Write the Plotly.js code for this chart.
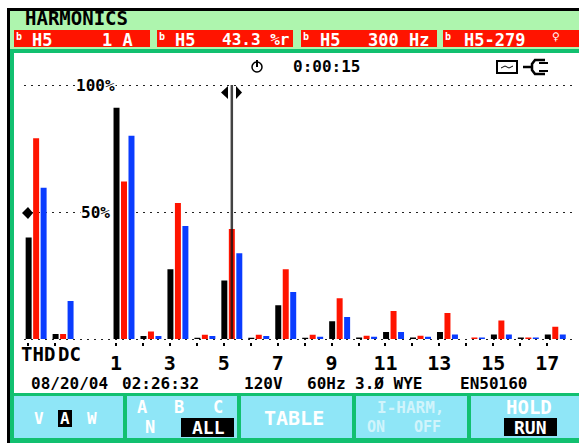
<!DOCTYPE html>
<html><head><meta charset="utf-8">
<script src="https://cdn.plot.ly/plotly-3.0.1.min.js"></script>
<style>html,body{margin:0;padding:0;background:#fff;overflow:hidden}</style>
</head><body><div id="chart" style="width:579px;height:443px"></div>
<script>
// Harmonic positions: THD and DC sit left of order 1 on the instrument's axis
const harmonicOrders = [-2.26,-1.26,1,2,3,4,5,6,7,8,9,10,11,12,13,14,15,16,17];
const tickLabels = ['','','1','','3','','5','','7','','9','','11','','13','','15','','17'];
const phaseBlack = [40,2,91,1.2,27.5,0.5,23,0.5,13.3,0.5,7,0.6,2.8,0.6,2.8,0,1.8,0.6,1.8];
const phaseRed   = [79,2,62,3,53.5,1.7,43.3,1.7,27.5,1.7,16,1.3,11,1.3,10.2,0.6,7.3,0.6,4.8];
const phaseBlue  = [59.5,15,80,1.2,44.5,1.2,33.8,1.2,18.5,0.9,8.7,0.9,2.8,0.9,1.8,0.6,1.8,0.6,1.8];
const cursorOrder = 5;

const W=579,H=443;
const px=x=>x/W, py=y=>(H-y)/H;
const GREEN='#12c070',HEAD='#aef5ae',TEAL='#8fe6f7',RED='#ff1400',BLUE='#0a3cff';
const MONO='"DejaVu Sans Mono", monospace';

function rect(x0,y0,x1,y1,c){return {type:'rect',xref:'paper',yref:'paper',x0:px(x0),x1:px(x1),y0:py(y0),y1:py(y1),fillcolor:c,line:{width:0},layer:'below'};}
function rectTop(x0,y0,x1,y1,c){return Object.assign(rect(x0,y0,x1,y1,c),{layer:'above'});}
function poly(pts,c,lw,fill){
  const d='M'+pts.map(p=>px(p[0])+','+py(p[1])).join('L')+(fill?'Z':'');
  return {type:'path',xref:'paper',yref:'paper',path:d,fillcolor:fill?c:'rgba(0,0,0,0)',line:{color:c,width:lw||0},layer:'above'};
}
function txt(t,x,y,size,color,extra){
  return Object.assign({text:t,xref:'paper',yref:'paper',x:px(x),y:py(y),xanchor:'center',yanchor:'middle',showarrow:false,borderpad:0,
    font:{family:MONO,size:size,color:color||'#000',weight:700}},extra||{});
}

const shapes=[
  rect(7,8,W,11,'#000'),
  rect(7,8,10,443,'#000'),
  rect(10,11,W,49,HEAD),
  rect(10,49,W,53,GREEN),
  rect(10,49,14,443,GREEN),
  rect(14,30,150,47,RED),rect(157,30,293,47,RED),rect(301,30,437,47,RED),rect(443,30,W,47,RED),
  rect(10,393,W,443,GREEN),
  rect(14,396,123,438,TEAL),rect(127,396,237,438,TEAL),rect(241,396,352,438,TEAL),rect(356,396,467,438,TEAL),rect(471,396,W,438,TEAL),
  rectTop(58,410,72,427,'#000'),
  rectTop(181,418,234,437,'#000'),
  rectTop(504,418,557,436,'#000'),
  // cursor
  {type:'line',xref:'x',yref:'paper',x0:cursorOrder,x1:cursorOrder,y0:py(339),y1:py(85),line:{color:'rgba(20,20,20,0.8)',width:2.5},layer:'above'},
  poly([[228,86],[228,99],[221,92.5]],'#000',0,true),
  poly([[236,86],[236,99],[242,92.5]],'#000',0,true),
  // level marker
  poly([[22,213],[28,207],[33,213],[28,219]],'#000',0,true),
  // timer icon
  {type:'circle',xref:'paper',yref:'paper',x0:px(252),x1:px(262),y0:py(72),y1:py(62),line:{color:'#000',width:1.5},layer:'above'},
  poly([[257,60],[257,67]],'#000',2),
  // tape icon
  {type:'rect',xref:'paper',yref:'paper',x0:px(497),x1:px(517),y0:py(73),y1:py(61),line:{color:'#000',width:2},layer:'above'},
  poly([[501,68],[505,66],[509,68],[513,66]],'#000',1),
  // plug icon
  poly([[523,67],[532,67]],'#000',2.5),
  poly([[545,60],[535,60],[532,64],[532,70],[535,74],[545,74]],'#000',2.5),
  poly([[539,63],[548,63]],'#000',2),
  poly([[539,71],[548,71]],'#000',2)
];

const annotations=[
  txt('HARMONICS',76,18,19),
  txt('H5',42,39.5,17,'#fff'),txt('1 A',117,39.5,17,'#fff'),
  txt('H5',185,39.5,17,'#fff'),txt('43.3 %r',255,39.5,16,'#fff'),
  txt('H5',330,39.5,17,'#fff'),txt('300 Hz',398,39.5,17,'#fff'),
  txt('H5-279',494,39.5,17,'#fff'),txt('♀',556,37,13,'#fff'),
  txt('b',19,36,10,'#fff'),txt('b',162,36,10,'#fff'),txt('b',306,36,10,'#fff'),txt('b',448,36,10,'#fff'),
  txt('0:00:15',326,67,16),
  txt('100%',95,85,16,'#000',{bgcolor:'#fff'}),
  txt('50%',95,212,16,'#000',{bgcolor:'#fff'}),
  txt('THD',38,354,19),txt('DC',69,354,19),
  txt('08/20/04',69,383,16),txt('02:26:32',160,383,16),
  txt('120V',263,383,16),txt('60Hz',326,383,16),txt('3.Ø WYE',388,383,16),txt('EN50160',493,383,16),
  txt('V',39,418,16,'#fff'),txt('A',65,418,16,'#fff'),txt('W',92,418,16,'#fff'),
  txt('A',142,407,17,'#fff'),txt('B',179,407,17,'#fff'),txt('C',218,407,17,'#fff'),
  txt('N',150,427,17,'#fff'),txt('ALL',208,427,18,'#fff'),
  txt('TABLE',294,418,20,'#fff'),
  txt('I-HARM,',410,407,16,'rgba(255,255,255,0.6)'),
  txt('ON',376,427,15,'rgba(255,255,255,0.6)'),txt('OFF',427,427,15,'rgba(255,255,255,0.6)'),
  txt('HOLD',529,407,19,'#fff'),txt('RUN',530,427,18,'#fff')
];

function series(name,vals,color){return {type:'bar',name:name,x:harmonicOrders,y:vals,marker:{color:color,line:{width:0}},hoverinfo:'skip'};}

Plotly.newPlot('chart',[
  series('A',phaseBlack,'#000'),
  series('B',phaseRed,RED),
  series('C',phaseBlue,BLUE)
],{
  width:W,height:H,margin:{l:0,r:0,t:0,b:0},
  paper_bgcolor:'#fff',plot_bgcolor:'rgba(0,0,0,0)',
  showlegend:false,barmode:'group',bargap:0.167,bargroupgap:0.2,
  xaxis:{domain:[px(24),px(572)],range:[-2.71,17.62],showgrid:false,zeroline:false,showline:false,
    tickmode:'array',tickvals:harmonicOrders.map(h=>h-0.3),ticktext:tickLabels,ticks:'outside',ticklen:3,tickwidth:2,tickcolor:'#000',
    tickfont:{family:MONO,size:20,color:'#000',weight:700},fixedrange:true},
  yaxis:{domain:[py(341.54),py(82.46)],range:[-1,101],tickmode:'array',tickvals:[0,50,100],showticklabels:false,ticks:'',
    showgrid:true,gridcolor:'#222',gridwidth:1,griddash:'1.5px,5.5px',zeroline:false,showline:false,fixedrange:true},
  shapes:shapes,annotations:annotations
},{displayModeBar:false,staticPlot:true});
</script></body></html>
